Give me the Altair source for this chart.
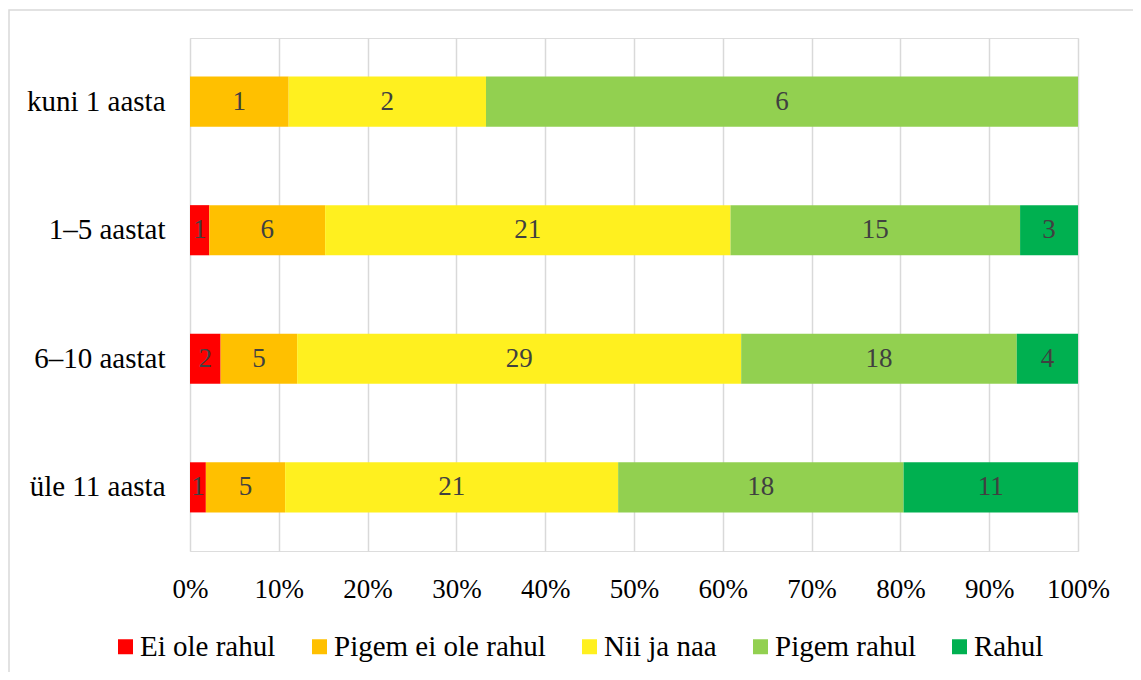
import altair as alt
import pandas as pd

categories = ["kuni 1 aasta", "1–5 aastat", "6–10 aastat", "üle 11 aasta"]
series = ["Ei ole rahul", "Pigem ei ole rahul", "Nii ja naa", "Pigem rahul", "Rahul"]
colors = ["#FF0000", "#FFC000", "#FFF01F", "#92D050", "#00B050"]

ei_ole_rahul = [0, 1, 2, 1]
pigem_ei_ole_rahul = [1, 6, 5, 5]
nii_ja_naa = [2, 21, 29, 21]
pigem_rahul = [6, 15, 18, 18]
rahul = [0, 3, 4, 11]

x_ticks = [0, 0.1, 0.2, 0.3, 0.4, 0.5, 0.6, 0.7, 0.8, 0.9, 1.0]

cols = [ei_ole_rahul, pigem_ei_ole_rahul, nii_ja_naa, pigem_rahul, rahul]
rows = []
for si, (s, vals) in enumerate(zip(series, cols)):
    for c, v in zip(categories, vals):
        rows.append({"cat": c, "series": s, "order": si, "value": v})
df = pd.DataFrame(rows)

FONT = "Liberation Serif"

base = alt.Chart(df).transform_filter(
    alt.datum.value > 0
).transform_stack(
    stack="value", groupby=["cat"], as_=["x0", "x1"], offset="normalize",
    sort=[alt.SortField("order", order="ascending")]
).transform_calculate(
    xm="(datum.x0 + datum.x1) / 2"
)

y_enc = alt.Y("cat:N", sort=categories, title=None,
              scale=alt.Scale(paddingInner=0.61, paddingOuter=0.3),
              axis=alt.Axis(labelFont=FONT, labelFontSize=29, labelColor="#000000",
                            labelPadding=25, ticks=False, domain=False, grid=False))

bars = base.mark_bar().encode(
    y=y_enc,
    x=alt.X("x0:Q", title=None,
            scale=alt.Scale(domain=[0, 1], nice=False, zero=True),
            axis=alt.Axis(values=x_ticks, format=".0%", labelFont=FONT, labelFontSize=27,
                          labelColor="#000000", labelPadding=25, ticks=False,
                          domain=False, grid=True, gridColor="#D9D9D9",
                          gridWidth=1.5, labelFlush=False)),
    x2="x1:Q",
    color=alt.Color("series:N", sort=series,
                    scale=alt.Scale(domain=series, range=colors),
                    legend=alt.Legend(title=None, orient="none", direction="horizontal",
                                      legendX=-79, legendY=594, columns=5,
                                      symbolType="square", symbolSize=225,
                                      symbolStrokeWidth=0, labelFont=FONT,
                                      labelFontSize=29, labelColor="#000000",
                                      labelOffset=0, columnPadding=29,
                                      labelLimit=400)),
)

labels = base.mark_text(font=FONT, fontSize=27, color="#404040",
                        baseline="middle", align="center").encode(
    y=alt.Y("cat:N", sort=categories),
    x=alt.X("xm:Q"),
    text=alt.Text("value:Q"),
)

border = alt.Chart(pd.DataFrame({"b": [0]})).mark_rect(
    fill=None, stroke="#D9D9D9", strokeWidth=1.5, clip=False
).encode(
    x=alt.value(-181), x2=alt.value(1200),
    y=alt.value(-28), y2=alt.value(800),
)

chart = alt.layer(border, bars, labels).properties(
    width=888, height=513,
    autosize=alt.AutoSizeParams(type="none"),
    padding={"left": 182, "top": 30, "right": 55, "bottom": 121},
).configure_view(stroke=None).configure(background="#FFFFFF", font=FONT)

chart.save("out.html", embed_options={"renderer": "svg", "actions": False})
